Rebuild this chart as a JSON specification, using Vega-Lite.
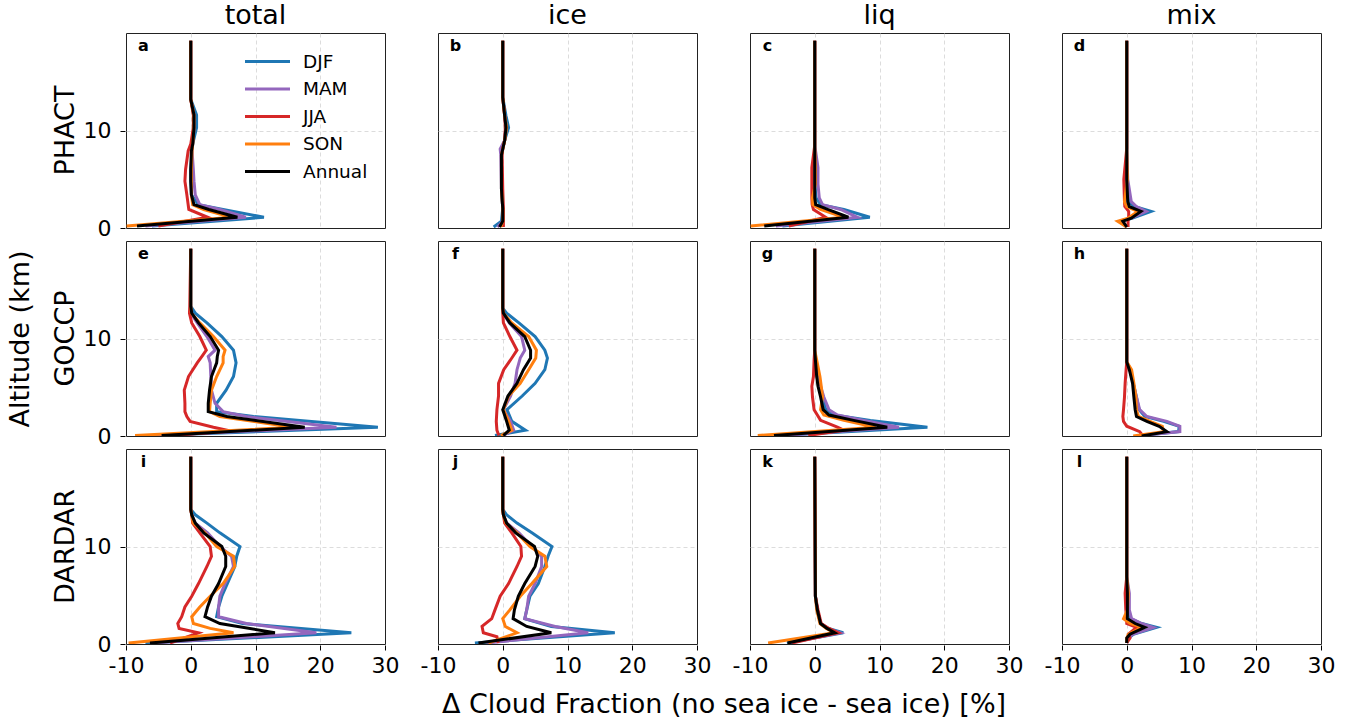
{
"$schema": "https://vega.github.io/schema/vega-lite/v6.json",
"background": "white",
"padding": {"left": 6, "top": 2, "right": 5, "bottom": 3},
"data": {"values": [
{"p":"a","s":"DJF","z":19.2,"x":0},{"p":"a","s":"DJF","z":13.2,"x":0},{"p":"a","s":"DJF","z":11.6,"x":0.9},{"p":"a","s":"DJF","z":10.3,"x":0.9},{"p":"a","s":"DJF","z":8.6,"x":0.3},{"p":"a","s":"DJF","z":7.9,"x":0.2},{"p":"a","s":"DJF","z":6,"x":0},{"p":"a","s":"DJF","z":4.8,"x":0},{"p":"a","s":"DJF","z":3.4,"x":0.1},{"p":"a","s":"DJF","z":2.4,"x":1.2},{"p":"a","s":"DJF","z":1.9,"x":5},{"p":"a","s":"DJF","z":1.1,"x":11.3},{"p":"a","s":"DJF","z":0.2,"x":-6},
{"p":"a","s":"MAM","z":19.2,"x":0},{"p":"a","s":"MAM","z":13.2,"x":0},{"p":"a","s":"MAM","z":11.6,"x":0.5},{"p":"a","s":"MAM","z":10.3,"x":0.5},{"p":"a","s":"MAM","z":8.6,"x":0.3},{"p":"a","s":"MAM","z":7.9,"x":0.2},{"p":"a","s":"MAM","z":6,"x":0.4},{"p":"a","s":"MAM","z":4.8,"x":0.5},{"p":"a","s":"MAM","z":3.4,"x":0.7},{"p":"a","s":"MAM","z":2.4,"x":1.4},{"p":"a","s":"MAM","z":1.9,"x":4.5},{"p":"a","s":"MAM","z":1.1,"x":8.5},{"p":"a","s":"MAM","z":0.2,"x":-7},
{"p":"a","s":"JJA","z":19.2,"x":0},{"p":"a","s":"JJA","z":13.2,"x":0},{"p":"a","s":"JJA","z":11.6,"x":0.4},{"p":"a","s":"JJA","z":10.3,"x":0.4},{"p":"a","s":"JJA","z":8.6,"x":0},{"p":"a","s":"JJA","z":7.9,"x":-0.4},{"p":"a","s":"JJA","z":6,"x":-0.8},{"p":"a","s":"JJA","z":4.8,"x":-0.9},{"p":"a","s":"JJA","z":3.4,"x":-0.6},{"p":"a","s":"JJA","z":2.4,"x":-0.4},{"p":"a","s":"JJA","z":1.9,"x":-0.3},{"p":"a","s":"JJA","z":1.1,"x":2.6},{"p":"a","s":"JJA","z":0.2,"x":-5},
{"p":"a","s":"SON","z":19.2,"x":0},{"p":"a","s":"SON","z":13.2,"x":0},{"p":"a","s":"SON","z":11.6,"x":0.5},{"p":"a","s":"SON","z":10.3,"x":0.5},{"p":"a","s":"SON","z":8.6,"x":0.3},{"p":"a","s":"SON","z":7.9,"x":0.2},{"p":"a","s":"SON","z":6,"x":0.1},{"p":"a","s":"SON","z":4.8,"x":0.1},{"p":"a","s":"SON","z":3.4,"x":0.1},{"p":"a","s":"SON","z":2.4,"x":0.3},{"p":"a","s":"SON","z":1.9,"x":2},{"p":"a","s":"SON","z":1.1,"x":6.3},{"p":"a","s":"SON","z":0.2,"x":-9.9},
{"p":"a","s":"Annual","z":19.2,"x":0},{"p":"a","s":"Annual","z":13.2,"x":0},{"p":"a","s":"Annual","z":11.6,"x":0.5},{"p":"a","s":"Annual","z":10.3,"x":0.5},{"p":"a","s":"Annual","z":8.6,"x":0.3},{"p":"a","s":"Annual","z":7.9,"x":0.1},{"p":"a","s":"Annual","z":6,"x":0},{"p":"a","s":"Annual","z":4.8,"x":0},{"p":"a","s":"Annual","z":3.4,"x":0.1},{"p":"a","s":"Annual","z":2.4,"x":0.5},{"p":"a","s":"Annual","z":1.9,"x":2.8},{"p":"a","s":"Annual","z":1.1,"x":7.2},{"p":"a","s":"Annual","z":0.2,"x":-8.3},

{"p":"b","s":"DJF","z":19.2,"x":0},{"p":"b","s":"DJF","z":13.4,"x":0},{"p":"b","s":"DJF","z":11.5,"x":0.5},{"p":"b","s":"DJF","z":10.3,"x":0.9},{"p":"b","s":"DJF","z":9,"x":0.3},{"p":"b","s":"DJF","z":8.1,"x":0},{"p":"b","s":"DJF","z":7.5,"x":-0.2},{"p":"b","s":"DJF","z":4,"x":-0.2},{"p":"b","s":"DJF","z":2,"x":0},{"p":"b","s":"DJF","z":0.7,"x":-0.2},{"p":"b","s":"DJF","z":0.1,"x":-1.4},
{"p":"b","s":"MAM","z":19.2,"x":0},{"p":"b","s":"MAM","z":13.4,"x":0},{"p":"b","s":"MAM","z":11.5,"x":0.3},{"p":"b","s":"MAM","z":10.3,"x":0.5},{"p":"b","s":"MAM","z":9,"x":0.3},{"p":"b","s":"MAM","z":8.1,"x":-0.4},{"p":"b","s":"MAM","z":7.5,"x":-0.3},{"p":"b","s":"MAM","z":4,"x":-0.2},{"p":"b","s":"MAM","z":2,"x":0},{"p":"b","s":"MAM","z":0.7,"x":0},{"p":"b","s":"MAM","z":0.1,"x":-0.8},
{"p":"b","s":"JJA","z":19.2,"x":0},{"p":"b","s":"JJA","z":13.4,"x":0},{"p":"b","s":"JJA","z":11.5,"x":0.3},{"p":"b","s":"JJA","z":10.3,"x":0.4},{"p":"b","s":"JJA","z":9,"x":0.3},{"p":"b","s":"JJA","z":8.1,"x":0},{"p":"b","s":"JJA","z":7.5,"x":-0.1},{"p":"b","s":"JJA","z":4,"x":0},{"p":"b","s":"JJA","z":2,"x":0.1},{"p":"b","s":"JJA","z":0.7,"x":0.1},{"p":"b","s":"JJA","z":0.1,"x":0.1},
{"p":"b","s":"SON","z":19.2,"x":0},{"p":"b","s":"SON","z":13.4,"x":0},{"p":"b","s":"SON","z":11.5,"x":0.3},{"p":"b","s":"SON","z":10.3,"x":0.6},{"p":"b","s":"SON","z":9,"x":0.3},{"p":"b","s":"SON","z":8.1,"x":0},{"p":"b","s":"SON","z":7.5,"x":-0.2},{"p":"b","s":"SON","z":4,"x":-0.2},{"p":"b","s":"SON","z":2,"x":0},{"p":"b","s":"SON","z":0.7,"x":0},{"p":"b","s":"SON","z":0.1,"x":-0.3},
{"p":"b","s":"Annual","z":19.2,"x":0},{"p":"b","s":"Annual","z":13.4,"x":0},{"p":"b","s":"Annual","z":11.5,"x":0.3},{"p":"b","s":"Annual","z":10.3,"x":0.5},{"p":"b","s":"Annual","z":9,"x":0.3},{"p":"b","s":"Annual","z":8.1,"x":0},{"p":"b","s":"Annual","z":7.5,"x":-0.2},{"p":"b","s":"Annual","z":4,"x":-0.2},{"p":"b","s":"Annual","z":2,"x":0},{"p":"b","s":"Annual","z":0.7,"x":0},{"p":"b","s":"Annual","z":0.1,"x":-0.5},

{"p":"c","s":"DJF","z":19.2,"x":0},{"p":"c","s":"DJF","z":8.5,"x":0},{"p":"c","s":"DJF","z":6.2,"x":0},{"p":"c","s":"DJF","z":4.5,"x":0},{"p":"c","s":"DJF","z":3.1,"x":0.2},{"p":"c","s":"DJF","z":2.4,"x":0.9},{"p":"c","s":"DJF","z":1.9,"x":4.5},{"p":"c","s":"DJF","z":1.1,"x":8.5},{"p":"c","s":"DJF","z":0.2,"x":-5},
{"p":"c","s":"MAM","z":19.2,"x":0},{"p":"c","s":"MAM","z":8.5,"x":0},{"p":"c","s":"MAM","z":6.2,"x":0.5},{"p":"c","s":"MAM","z":4.5,"x":0.5},{"p":"c","s":"MAM","z":3.1,"x":0.7},{"p":"c","s":"MAM","z":2.4,"x":1.2},{"p":"c","s":"MAM","z":1.9,"x":4},{"p":"c","s":"MAM","z":1.1,"x":6.6},{"p":"c","s":"MAM","z":0.2,"x":-6},
{"p":"c","s":"JJA","z":19.2,"x":0},{"p":"c","s":"JJA","z":8.5,"x":0},{"p":"c","s":"JJA","z":6.2,"x":-0.45},{"p":"c","s":"JJA","z":4.5,"x":-0.45},{"p":"c","s":"JJA","z":3.1,"x":-0.45},{"p":"c","s":"JJA","z":2.4,"x":-0.4},{"p":"c","s":"JJA","z":1.9,"x":-0.2},{"p":"c","s":"JJA","z":1.1,"x":1.7},{"p":"c","s":"JJA","z":0.2,"x":-4},
{"p":"c","s":"SON","z":19.2,"x":0},{"p":"c","s":"SON","z":8.5,"x":0},{"p":"c","s":"SON","z":6.2,"x":0.1},{"p":"c","s":"SON","z":4.5,"x":0.1},{"p":"c","s":"SON","z":3.1,"x":-0.35},{"p":"c","s":"SON","z":2.4,"x":-0.3},{"p":"c","s":"SON","z":1.9,"x":0.9},{"p":"c","s":"SON","z":1.1,"x":4.5},{"p":"c","s":"SON","z":0.2,"x":-9.9},
{"p":"c","s":"Annual","z":19.2,"x":0},{"p":"c","s":"Annual","z":8.5,"x":0},{"p":"c","s":"Annual","z":6.2,"x":0},{"p":"c","s":"Annual","z":4.5,"x":0},{"p":"c","s":"Annual","z":3.1,"x":0},{"p":"c","s":"Annual","z":2.4,"x":0.15},{"p":"c","s":"Annual","z":1.9,"x":2},{"p":"c","s":"Annual","z":1.1,"x":5.2},{"p":"c","s":"Annual","z":0.2,"x":-7.8},

{"p":"d","s":"DJF","z":19.2,"x":0},{"p":"d","s":"DJF","z":8.2,"x":0},{"p":"d","s":"DJF","z":5,"x":0},{"p":"d","s":"DJF","z":2.7,"x":0.3},{"p":"d","s":"DJF","z":2.2,"x":1.2},{"p":"d","s":"DJF","z":1.7,"x":3.75},{"p":"d","s":"DJF","z":1.0,"x":0.8},{"p":"d","s":"DJF","z":0.7,"x":-0.8},{"p":"d","s":"DJF","z":0.1,"x":0},
{"p":"d","s":"MAM","z":19.2,"x":0},{"p":"d","s":"MAM","z":8.2,"x":0},{"p":"d","s":"MAM","z":5,"x":0.15},{"p":"d","s":"MAM","z":2.7,"x":0.7},{"p":"d","s":"MAM","z":2.2,"x":1.5},{"p":"d","s":"MAM","z":1.7,"x":3},{"p":"d","s":"MAM","z":1.0,"x":0.6},{"p":"d","s":"MAM","z":0.7,"x":-1},{"p":"d","s":"MAM","z":0.1,"x":0},
{"p":"d","s":"JJA","z":19.2,"x":0},{"p":"d","s":"JJA","z":8.2,"x":0},{"p":"d","s":"JJA","z":5,"x":-0.45},{"p":"d","s":"JJA","z":2.7,"x":-0.35},{"p":"d","s":"JJA","z":2.2,"x":-0.3},{"p":"d","s":"JJA","z":1.7,"x":0.3},{"p":"d","s":"JJA","z":1.0,"x":0.3},{"p":"d","s":"JJA","z":0.7,"x":0.2},{"p":"d","s":"JJA","z":0.1,"x":0.2},
{"p":"d","s":"SON","z":19.2,"x":0},{"p":"d","s":"SON","z":8.2,"x":0},{"p":"d","s":"SON","z":5,"x":0.1},{"p":"d","s":"SON","z":2.7,"x":-0.35},{"p":"d","s":"SON","z":2.2,"x":0},{"p":"d","s":"SON","z":1.7,"x":1.7},{"p":"d","s":"SON","z":1.0,"x":0.2},{"p":"d","s":"SON","z":0.7,"x":-1.4},{"p":"d","s":"SON","z":0.1,"x":0},
{"p":"d","s":"Annual","z":19.2,"x":0},{"p":"d","s":"Annual","z":8.2,"x":0},{"p":"d","s":"Annual","z":5,"x":0},{"p":"d","s":"Annual","z":2.7,"x":0.15},{"p":"d","s":"Annual","z":2.2,"x":0.4},{"p":"d","s":"Annual","z":1.7,"x":2.2},{"p":"d","s":"Annual","z":1.0,"x":0.7},{"p":"d","s":"Annual","z":0.7,"x":-0.6},{"p":"d","s":"Annual","z":0.1,"x":0},

{"p":"e","s":"DJF","z":19.2,"x":0},{"p":"e","s":"DJF","z":13.3,"x":0},{"p":"e","s":"DJF","z":12.6,"x":0.7},{"p":"e","s":"DJF","z":11.6,"x":2.5},{"p":"e","s":"DJF","z":10.2,"x":4.8},{"p":"e","s":"DJF","z":8.8,"x":6.6},{"p":"e","s":"DJF","z":7.5,"x":7},{"p":"e","s":"DJF","z":6.1,"x":6.6},{"p":"e","s":"DJF","z":4.7,"x":5.45},{"p":"e","s":"DJF","z":3.35,"x":4},{"p":"e","s":"DJF","z":2.5,"x":4},{"p":"e","s":"DJF","z":2.0,"x":9.7},{"p":"e","s":"DJF","z":0.9,"x":28.9},{"p":"e","s":"DJF","z":0.05,"x":-6},
{"p":"e","s":"MAM","z":19.2,"x":0},{"p":"e","s":"MAM","z":13.3,"x":0},{"p":"e","s":"MAM","z":12.6,"x":0},{"p":"e","s":"MAM","z":11.6,"x":1},{"p":"e","s":"MAM","z":10.2,"x":2.5},{"p":"e","s":"MAM","z":8.8,"x":3.75},{"p":"e","s":"MAM","z":8.15,"x":2.7},{"p":"e","s":"MAM","z":7.5,"x":3},{"p":"e","s":"MAM","z":6.1,"x":3.1},{"p":"e","s":"MAM","z":4.7,"x":3.2},{"p":"e","s":"MAM","z":3.35,"x":3.75},{"p":"e","s":"MAM","z":2.5,"x":5},{"p":"e","s":"MAM","z":2.0,"x":8.6},{"p":"e","s":"MAM","z":0.9,"x":22.5},{"p":"e","s":"MAM","z":0.05,"x":-6},
{"p":"e","s":"JJA","z":19.2,"x":0},{"p":"e","s":"JJA","z":13.3,"x":-0.15},{"p":"e","s":"JJA","z":12.6,"x":-0.2},{"p":"e","s":"JJA","z":11.6,"x":0.15},{"p":"e","s":"JJA","z":10.2,"x":1.4},{"p":"e","s":"JJA","z":8.8,"x":2.4},{"p":"e","s":"JJA","z":8.15,"x":1.7},{"p":"e","s":"JJA","z":7.5,"x":1},{"p":"e","s":"JJA","z":6.1,"x":-0.35},{"p":"e","s":"JJA","z":4.7,"x":-1},{"p":"e","s":"JJA","z":3.35,"x":-0.9},{"p":"e","s":"JJA","z":2.5,"x":-0.9},{"p":"e","s":"JJA","z":2.0,"x":-0.6},{"p":"e","s":"JJA","z":1.5,"x":-0.1},{"p":"e","s":"JJA","z":0.9,"x":3.5},{"p":"e","s":"JJA","z":0.5,"x":6.3},{"p":"e","s":"JJA","z":0.05,"x":-3},
{"p":"e","s":"SON","z":19.2,"x":0},{"p":"e","s":"SON","z":13.3,"x":0},{"p":"e","s":"SON","z":12.6,"x":0.1},{"p":"e","s":"SON","z":11.6,"x":1.4},{"p":"e","s":"SON","z":10.2,"x":3.5},{"p":"e","s":"SON","z":8.8,"x":5.3},{"p":"e","s":"SON","z":8.15,"x":5},{"p":"e","s":"SON","z":7.5,"x":5},{"p":"e","s":"SON","z":6.1,"x":4},{"p":"e","s":"SON","z":4.7,"x":3.2},{"p":"e","s":"SON","z":3.35,"x":3},{"p":"e","s":"SON","z":2.5,"x":2.9},{"p":"e","s":"SON","z":2.0,"x":4.5},{"p":"e","s":"SON","z":0.9,"x":15.8},{"p":"e","s":"SON","z":0.05,"x":-8.6},
{"p":"e","s":"Annual","z":19.2,"x":0},{"p":"e","s":"Annual","z":13.3,"x":0},{"p":"e","s":"Annual","z":12.6,"x":0.15},{"p":"e","s":"Annual","z":11.6,"x":1.2},{"p":"e","s":"Annual","z":10.2,"x":3},{"p":"e","s":"Annual","z":8.8,"x":4.3},{"p":"e","s":"Annual","z":8.15,"x":4.1},{"p":"e","s":"Annual","z":7.5,"x":4},{"p":"e","s":"Annual","z":6.1,"x":3.2},{"p":"e","s":"Annual","z":4.7,"x":2.9},{"p":"e","s":"Annual","z":3.35,"x":2.7},{"p":"e","s":"Annual","z":2.5,"x":2.7},{"p":"e","s":"Annual","z":2.0,"x":5.6},{"p":"e","s":"Annual","z":0.9,"x":17.6},{"p":"e","s":"Annual","z":0.05,"x":-4.5},

{"p":"f","s":"DJF","z":19.2,"x":0},{"p":"f","s":"DJF","z":13.1,"x":0},{"p":"f","s":"DJF","z":12.6,"x":0.6},{"p":"f","s":"DJF","z":11.6,"x":2.5},{"p":"f","s":"DJF","z":10.2,"x":5},{"p":"f","s":"DJF","z":8.8,"x":6.5},{"p":"f","s":"DJF","z":8.0,"x":6.9},{"p":"f","s":"DJF","z":6.8,"x":6.5},{"p":"f","s":"DJF","z":5.4,"x":5},{"p":"f","s":"DJF","z":4.1,"x":3},{"p":"f","s":"DJF","z":2.7,"x":0.65},{"p":"f","s":"DJF","z":1.5,"x":1.4},{"p":"f","s":"DJF","z":0.6,"x":3.5},{"p":"f","s":"DJF","z":0.05,"x":-1.2},
{"p":"f","s":"MAM","z":19.2,"x":0},{"p":"f","s":"MAM","z":13.1,"x":0},{"p":"f","s":"MAM","z":12.6,"x":0.1},{"p":"f","s":"MAM","z":11.6,"x":1},{"p":"f","s":"MAM","z":10.2,"x":2.9},{"p":"f","s":"MAM","z":8.8,"x":3.4},{"p":"f","s":"MAM","z":8.0,"x":2.7},{"p":"f","s":"MAM","z":6.8,"x":2.2},{"p":"f","s":"MAM","z":5.4,"x":1.9},{"p":"f","s":"MAM","z":4.1,"x":1.2},{"p":"f","s":"MAM","z":2.7,"x":0.1},{"p":"f","s":"MAM","z":1.5,"x":1.2},{"p":"f","s":"MAM","z":0.6,"x":1.7},{"p":"f","s":"MAM","z":0.05,"x":0},
{"p":"f","s":"JJA","z":19.2,"x":0},{"p":"f","s":"JJA","z":13.1,"x":0},{"p":"f","s":"JJA","z":12.6,"x":0},{"p":"f","s":"JJA","z":11.6,"x":0.1},{"p":"f","s":"JJA","z":10.2,"x":1.1},{"p":"f","s":"JJA","z":8.8,"x":2.2},{"p":"f","s":"JJA","z":8.0,"x":1.4},{"p":"f","s":"JJA","z":6.8,"x":0.15},{"p":"f","s":"JJA","z":5.4,"x":-0.65},{"p":"f","s":"JJA","z":4.1,"x":-0.65},{"p":"f","s":"JJA","z":2.7,"x":-0.9},{"p":"f","s":"JJA","z":1.5,"x":-1},{"p":"f","s":"JJA","z":0.6,"x":-0.9},{"p":"f","s":"JJA","z":0.05,"x":-0.6},
{"p":"f","s":"SON","z":19.2,"x":0},{"p":"f","s":"SON","z":13.1,"x":0},{"p":"f","s":"SON","z":12.6,"x":0.1},{"p":"f","s":"SON","z":11.6,"x":1.4},{"p":"f","s":"SON","z":10.2,"x":4},{"p":"f","s":"SON","z":8.8,"x":5.2},{"p":"f","s":"SON","z":8.0,"x":5.1},{"p":"f","s":"SON","z":6.8,"x":4},{"p":"f","s":"SON","z":5.4,"x":2.7},{"p":"f","s":"SON","z":4.1,"x":0.9},{"p":"f","s":"SON","z":2.7,"x":0.1},{"p":"f","s":"SON","z":1.5,"x":0.9},{"p":"f","s":"SON","z":0.6,"x":1.4},{"p":"f","s":"SON","z":0.05,"x":-0.3},
{"p":"f","s":"Annual","z":19.2,"x":0},{"p":"f","s":"Annual","z":13.1,"x":0},{"p":"f","s":"Annual","z":12.6,"x":0.1},{"p":"f","s":"Annual","z":11.6,"x":1.1},{"p":"f","s":"Annual","z":10.2,"x":3.4},{"p":"f","s":"Annual","z":8.8,"x":4.3},{"p":"f","s":"Annual","z":8.0,"x":4.3},{"p":"f","s":"Annual","z":6.8,"x":3.2},{"p":"f","s":"Annual","z":5.4,"x":2.2},{"p":"f","s":"Annual","z":4.1,"x":0.8},{"p":"f","s":"Annual","z":2.7,"x":0},{"p":"f","s":"Annual","z":1.5,"x":0.6},{"p":"f","s":"Annual","z":0.6,"x":1},{"p":"f","s":"Annual","z":0.05,"x":0.1},

{"p":"g","s":"DJF","z":19.2,"x":0},{"p":"g","s":"DJF","z":8.8,"x":0},{"p":"g","s":"DJF","z":7.8,"x":0},{"p":"g","s":"DJF","z":6.1,"x":0.4},{"p":"g","s":"DJF","z":5.1,"x":0.65},{"p":"g","s":"DJF","z":4.0,"x":1.2},{"p":"g","s":"DJF","z":2.7,"x":1.7},{"p":"g","s":"DJF","z":2.15,"x":3},{"p":"g","s":"DJF","z":1.6,"x":8.6},{"p":"g","s":"DJF","z":0.9,"x":17.4},{"p":"g","s":"DJF","z":0.05,"x":-5.5},
{"p":"g","s":"MAM","z":19.2,"x":0},{"p":"g","s":"MAM","z":8.8,"x":0},{"p":"g","s":"MAM","z":7.8,"x":0.1},{"p":"g","s":"MAM","z":6.1,"x":0.5},{"p":"g","s":"MAM","z":5.1,"x":0.9},{"p":"g","s":"MAM","z":4.0,"x":1.4},{"p":"g","s":"MAM","z":2.7,"x":2.2},{"p":"g","s":"MAM","z":2.15,"x":3.5},{"p":"g","s":"MAM","z":1.6,"x":7.6},{"p":"g","s":"MAM","z":0.9,"x":13},{"p":"g","s":"MAM","z":0.05,"x":-5},
{"p":"g","s":"JJA","z":19.2,"x":0},{"p":"g","s":"JJA","z":8.8,"x":0},{"p":"g","s":"JJA","z":7.8,"x":-0.1},{"p":"g","s":"JJA","z":6.1,"x":-0.2},{"p":"g","s":"JJA","z":5.1,"x":-0.45},{"p":"g","s":"JJA","z":4.0,"x":-0.35},{"p":"g","s":"JJA","z":2.7,"x":-0.1},{"p":"g","s":"JJA","z":2.15,"x":0.4},{"p":"g","s":"JJA","z":1.6,"x":0.9},{"p":"g","s":"JJA","z":0.9,"x":3.5},{"p":"g","s":"JJA","z":0.6,"x":4.5},{"p":"g","s":"JJA","z":0.05,"x":-1},
{"p":"g","s":"SON","z":19.2,"x":0},{"p":"g","s":"SON","z":8.8,"x":0},{"p":"g","s":"SON","z":7.8,"x":0.3},{"p":"g","s":"SON","z":6.1,"x":0.8},{"p":"g","s":"SON","z":5.1,"x":1},{"p":"g","s":"SON","z":4.0,"x":1.2},{"p":"g","s":"SON","z":2.7,"x":0.9},{"p":"g","s":"SON","z":2.15,"x":1.4},{"p":"g","s":"SON","z":1.6,"x":4.5},{"p":"g","s":"SON","z":0.9,"x":9.4},{"p":"g","s":"SON","z":0.05,"x":-8.8},
{"p":"g","s":"Annual","z":19.2,"x":0},{"p":"g","s":"Annual","z":8.8,"x":0},{"p":"g","s":"Annual","z":7.8,"x":0.1},{"p":"g","s":"Annual","z":6.1,"x":0.3},{"p":"g","s":"Annual","z":5.1,"x":0.5},{"p":"g","s":"Annual","z":4.0,"x":0.9},{"p":"g","s":"Annual","z":2.7,"x":1.3},{"p":"g","s":"Annual","z":2.15,"x":2.2},{"p":"g","s":"Annual","z":1.6,"x":6},{"p":"g","s":"Annual","z":0.9,"x":11.2},{"p":"g","s":"Annual","z":0.05,"x":-6.3},

{"p":"h","s":"DJF","z":19.2,"x":0},{"p":"h","s":"DJF","z":7.6,"x":0},{"p":"h","s":"DJF","z":6.8,"x":0.5},{"p":"h","s":"DJF","z":5.4,"x":1},{"p":"h","s":"DJF","z":4.0,"x":1.5},{"p":"h","s":"DJF","z":2.7,"x":1.9},{"p":"h","s":"DJF","z":2.0,"x":2.8},{"p":"h","s":"DJF","z":1.5,"x":5.7},{"p":"h","s":"DJF","z":1.0,"x":8.1},{"p":"h","s":"DJF","z":0.45,"x":8},{"p":"h","s":"DJF","z":0.0,"x":1.5},
{"p":"h","s":"MAM","z":19.2,"x":0},{"p":"h","s":"MAM","z":7.6,"x":0},{"p":"h","s":"MAM","z":6.8,"x":0.5},{"p":"h","s":"MAM","z":5.4,"x":1},{"p":"h","s":"MAM","z":4.0,"x":1.5},{"p":"h","s":"MAM","z":2.7,"x":2},{"p":"h","s":"MAM","z":2.0,"x":3.1},{"p":"h","s":"MAM","z":1.5,"x":6.2},{"p":"h","s":"MAM","z":1.0,"x":8.2},{"p":"h","s":"MAM","z":0.45,"x":8.2},{"p":"h","s":"MAM","z":0.0,"x":1.5},
{"p":"h","s":"JJA","z":19.2,"x":0},{"p":"h","s":"JJA","z":7.6,"x":0},{"p":"h","s":"JJA","z":6.8,"x":-0.1},{"p":"h","s":"JJA","z":5.4,"x":-0.25},{"p":"h","s":"JJA","z":4.0,"x":-0.35},{"p":"h","s":"JJA","z":2.7,"x":-0.5},{"p":"h","s":"JJA","z":2.0,"x":-0.6},{"p":"h","s":"JJA","z":1.5,"x":-0.5},{"p":"h","s":"JJA","z":1.0,"x":0},{"p":"h","s":"JJA","z":0.45,"x":2},{"p":"h","s":"JJA","z":0.0,"x":2.5},
{"p":"h","s":"SON","z":19.2,"x":0},{"p":"h","s":"SON","z":7.6,"x":0},{"p":"h","s":"SON","z":6.8,"x":0.75},{"p":"h","s":"SON","z":5.4,"x":1.1},{"p":"h","s":"SON","z":4.0,"x":1.4},{"p":"h","s":"SON","z":2.7,"x":1.5},{"p":"h","s":"SON","z":2.0,"x":1.8},{"p":"h","s":"SON","z":1.5,"x":3.6},{"p":"h","s":"SON","z":1.0,"x":5.5},{"p":"h","s":"SON","z":0.45,"x":5.7},{"p":"h","s":"SON","z":0.0,"x":1},
{"p":"h","s":"Annual","z":19.2,"x":0},{"p":"h","s":"Annual","z":7.6,"x":0},{"p":"h","s":"Annual","z":6.8,"x":0.4},{"p":"h","s":"Annual","z":5.4,"x":0.9},{"p":"h","s":"Annual","z":4.0,"x":1.1},{"p":"h","s":"Annual","z":2.7,"x":1.3},{"p":"h","s":"Annual","z":2.0,"x":1.5},{"p":"h","s":"Annual","z":1.5,"x":3.1},{"p":"h","s":"Annual","z":1.0,"x":5},{"p":"h","s":"Annual","z":0.45,"x":6.2},{"p":"h","s":"Annual","z":0.0,"x":2.3},

{"p":"i","s":"DJF","z":19.2,"x":0},{"p":"i","s":"DJF","z":13.8,"x":0},{"p":"i","s":"DJF","z":13.25,"x":0.7},{"p":"i","s":"DJF","z":12.4,"x":2.5},{"p":"i","s":"DJF","z":11.4,"x":4.5},{"p":"i","s":"DJF","z":10.0,"x":7.6},{"p":"i","s":"DJF","z":9.0,"x":7.1},{"p":"i","s":"DJF","z":7.95,"x":6.8},{"p":"i","s":"DJF","z":6.2,"x":5.65},{"p":"i","s":"DJF","z":4.9,"x":4.8},{"p":"i","s":"DJF","z":3.8,"x":4.3},{"p":"i","s":"DJF","z":2.8,"x":4},{"p":"i","s":"DJF","z":2.1,"x":8},{"p":"i","s":"DJF","z":1.15,"x":24.8},{"p":"i","s":"DJF","z":0.1,"x":-7},
{"p":"i","s":"MAM","z":19.2,"x":0},{"p":"i","s":"MAM","z":13.8,"x":0},{"p":"i","s":"MAM","z":13.25,"x":0.15},{"p":"i","s":"MAM","z":12.4,"x":0.7},{"p":"i","s":"MAM","z":11.4,"x":2.6},{"p":"i","s":"MAM","z":10.0,"x":4.5},{"p":"i","s":"MAM","z":9.0,"x":6.3},{"p":"i","s":"MAM","z":7.95,"x":6.6},{"p":"i","s":"MAM","z":6.2,"x":5.3},{"p":"i","s":"MAM","z":4.9,"x":4.5},{"p":"i","s":"MAM","z":3.8,"x":4.3},{"p":"i","s":"MAM","z":2.8,"x":4.3},{"p":"i","s":"MAM","z":2.1,"x":8.6},{"p":"i","s":"MAM","z":1.15,"x":19.4},{"p":"i","s":"MAM","z":0.1,"x":-6},
{"p":"i","s":"JJA","z":19.2,"x":0},{"p":"i","s":"JJA","z":13.8,"x":0},{"p":"i","s":"JJA","z":13.25,"x":0.15},{"p":"i","s":"JJA","z":12.4,"x":0.3},{"p":"i","s":"JJA","z":11.4,"x":1.4},{"p":"i","s":"JJA","z":10.0,"x":3},{"p":"i","s":"JJA","z":9.0,"x":3.2},{"p":"i","s":"JJA","z":7.95,"x":2.5},{"p":"i","s":"JJA","z":6.2,"x":1.2},{"p":"i","s":"JJA","z":4.9,"x":0.15},{"p":"i","s":"JJA","z":3.8,"x":-0.9},{"p":"i","s":"JJA","z":2.8,"x":-1.4},{"p":"i","s":"JJA","z":2.1,"x":-2},{"p":"i","s":"JJA","z":1.6,"x":-1.8},{"p":"i","s":"JJA","z":1.15,"x":1.2},{"p":"i","s":"JJA","z":0.1,"x":-3.2},
{"p":"i","s":"SON","z":19.2,"x":0},{"p":"i","s":"SON","z":13.8,"x":0},{"p":"i","s":"SON","z":13.25,"x":0.15},{"p":"i","s":"SON","z":12.4,"x":0.4},{"p":"i","s":"SON","z":11.4,"x":2.2},{"p":"i","s":"SON","z":10.0,"x":4},{"p":"i","s":"SON","z":9.0,"x":6.6},{"p":"i","s":"SON","z":7.95,"x":6.8},{"p":"i","s":"SON","z":6.2,"x":5},{"p":"i","s":"SON","z":4.9,"x":3},{"p":"i","s":"SON","z":3.8,"x":1.4},{"p":"i","s":"SON","z":2.8,"x":0.15},{"p":"i","s":"SON","z":2.1,"x":0.4},{"p":"i","s":"SON","z":1.6,"x":3},{"p":"i","s":"SON","z":1.15,"x":6.6},{"p":"i","s":"SON","z":0.1,"x":-9.6},
{"p":"i","s":"Annual","z":19.2,"x":0},{"p":"i","s":"Annual","z":13.8,"x":0},{"p":"i","s":"Annual","z":13.25,"x":0.15},{"p":"i","s":"Annual","z":12.4,"x":0.7},{"p":"i","s":"Annual","z":11.4,"x":2},{"p":"i","s":"Annual","z":10.0,"x":4.8},{"p":"i","s":"Annual","z":9.0,"x":5.4},{"p":"i","s":"Annual","z":7.95,"x":5.4},{"p":"i","s":"Annual","z":6.2,"x":4.3},{"p":"i","s":"Annual","z":4.9,"x":3.2},{"p":"i","s":"Annual","z":3.8,"x":2.6},{"p":"i","s":"Annual","z":2.8,"x":2.2},{"p":"i","s":"Annual","z":2.1,"x":4.5},{"p":"i","s":"Annual","z":1.15,"x":13},{"p":"i","s":"Annual","z":0.1,"x":-6.3},

{"p":"j","s":"DJF","z":19.2,"x":0},{"p":"j","s":"DJF","z":13.8,"x":0},{"p":"j","s":"DJF","z":13.25,"x":0.6},{"p":"j","s":"DJF","z":12.4,"x":2.2},{"p":"j","s":"DJF","z":11.4,"x":4.5},{"p":"j","s":"DJF","z":10.0,"x":7.6},{"p":"j","s":"DJF","z":9.0,"x":7},{"p":"j","s":"DJF","z":7.95,"x":6.5},{"p":"j","s":"DJF","z":6.2,"x":5.5},{"p":"j","s":"DJF","z":4.9,"x":4.2},{"p":"j","s":"DJF","z":3.5,"x":3.7},{"p":"j","s":"DJF","z":2.6,"x":3.4},{"p":"j","s":"DJF","z":1.8,"x":7.5},{"p":"j","s":"DJF","z":1.15,"x":17.3},{"p":"j","s":"DJF","z":0.1,"x":-4.3},
{"p":"j","s":"MAM","z":19.2,"x":0},{"p":"j","s":"MAM","z":13.8,"x":0},{"p":"j","s":"MAM","z":13.25,"x":0.1},{"p":"j","s":"MAM","z":12.4,"x":0.6},{"p":"j","s":"MAM","z":11.4,"x":2.5},{"p":"j","s":"MAM","z":10.0,"x":4.5},{"p":"j","s":"MAM","z":9.0,"x":6},{"p":"j","s":"MAM","z":7.95,"x":6},{"p":"j","s":"MAM","z":6.2,"x":5},{"p":"j","s":"MAM","z":4.9,"x":4},{"p":"j","s":"MAM","z":3.5,"x":3.7},{"p":"j","s":"MAM","z":2.6,"x":3.4},{"p":"j","s":"MAM","z":1.8,"x":8.1},{"p":"j","s":"MAM","z":1.15,"x":13.2},{"p":"j","s":"MAM","z":0.1,"x":-2.5},
{"p":"j","s":"JJA","z":19.2,"x":0},{"p":"j","s":"JJA","z":13.8,"x":0},{"p":"j","s":"JJA","z":13.25,"x":0.1},{"p":"j","s":"JJA","z":12.4,"x":0.3},{"p":"j","s":"JJA","z":11.4,"x":1.4},{"p":"j","s":"JJA","z":10.0,"x":2.8},{"p":"j","s":"JJA","z":9.0,"x":2.9},{"p":"j","s":"JJA","z":7.95,"x":2.2},{"p":"j","s":"JJA","z":6.2,"x":0.9},{"p":"j","s":"JJA","z":4.9,"x":-0.4},{"p":"j","s":"JJA","z":3.5,"x":-1.2},{"p":"j","s":"JJA","z":2.6,"x":-1.7},{"p":"j","s":"JJA","z":1.8,"x":-3.2},{"p":"j","s":"JJA","z":1.15,"x":-3},{"p":"j","s":"JJA","z":0.75,"x":-0.9},{"p":"j","s":"JJA","z":0.1,"x":-0.7},
{"p":"j","s":"SON","z":19.2,"x":0},{"p":"j","s":"SON","z":13.8,"x":0},{"p":"j","s":"SON","z":13.25,"x":0.1},{"p":"j","s":"SON","z":12.4,"x":0.5},{"p":"j","s":"SON","z":11.4,"x":2.2},{"p":"j","s":"SON","z":10.0,"x":4.2},{"p":"j","s":"SON","z":9.0,"x":6.5},{"p":"j","s":"SON","z":7.95,"x":6.8},{"p":"j","s":"SON","z":6.2,"x":4.5},{"p":"j","s":"SON","z":4.9,"x":2.7},{"p":"j","s":"SON","z":3.5,"x":1.1},{"p":"j","s":"SON","z":2.6,"x":0},{"p":"j","s":"SON","z":1.8,"x":0.4},{"p":"j","s":"SON","z":1.15,"x":2.2},{"p":"j","s":"SON","z":0.1,"x":-2.2},
{"p":"j","s":"Annual","z":19.2,"x":0},{"p":"j","s":"Annual","z":13.8,"x":0},{"p":"j","s":"Annual","z":13.25,"x":0.1},{"p":"j","s":"Annual","z":12.4,"x":0.6},{"p":"j","s":"Annual","z":11.4,"x":2},{"p":"j","s":"Annual","z":10.0,"x":4.9},{"p":"j","s":"Annual","z":9.0,"x":5.4},{"p":"j","s":"Annual","z":7.95,"x":5},{"p":"j","s":"Annual","z":6.2,"x":3.4},{"p":"j","s":"Annual","z":4.9,"x":2.4},{"p":"j","s":"Annual","z":3.5,"x":1.8},{"p":"j","s":"Annual","z":2.6,"x":1.6},{"p":"j","s":"Annual","z":1.8,"x":3.7},{"p":"j","s":"Annual","z":1.15,"x":7.5},{"p":"j","s":"Annual","z":0.1,"x":-3.75},

{"p":"k","s":"DJF","z":19.2,"x":0},{"p":"k","s":"DJF","z":4.9,"x":0.1},{"p":"k","s":"DJF","z":3.5,"x":0.4},{"p":"k","s":"DJF","z":2.1,"x":0.9},{"p":"k","s":"DJF","z":1.6,"x":2.1},{"p":"k","s":"DJF","z":1.15,"x":4.4},{"p":"k","s":"DJF","z":0.1,"x":-4.3},
{"p":"k","s":"MAM","z":19.2,"x":0},{"p":"k","s":"MAM","z":4.9,"x":0.1},{"p":"k","s":"MAM","z":3.5,"x":0.4},{"p":"k","s":"MAM","z":2.1,"x":0.9},{"p":"k","s":"MAM","z":1.6,"x":2},{"p":"k","s":"MAM","z":1.15,"x":3.9},{"p":"k","s":"MAM","z":0.1,"x":-4},
{"p":"k","s":"JJA","z":19.2,"x":0},{"p":"k","s":"JJA","z":4.9,"x":0.1},{"p":"k","s":"JJA","z":3.5,"x":0.5},{"p":"k","s":"JJA","z":2.1,"x":1},{"p":"k","s":"JJA","z":1.6,"x":2.2},{"p":"k","s":"JJA","z":1.15,"x":3.6},{"p":"k","s":"JJA","z":0.1,"x":-3.5},
{"p":"k","s":"SON","z":19.2,"x":0},{"p":"k","s":"SON","z":4.9,"x":0.1},{"p":"k","s":"SON","z":3.5,"x":0.3},{"p":"k","s":"SON","z":2.1,"x":0.8},{"p":"k","s":"SON","z":1.6,"x":1.8},{"p":"k","s":"SON","z":1.15,"x":3},{"p":"k","s":"SON","z":0.1,"x":-7.2},
{"p":"k","s":"Annual","z":19.2,"x":0},{"p":"k","s":"Annual","z":4.9,"x":0.1},{"p":"k","s":"Annual","z":3.5,"x":0.4},{"p":"k","s":"Annual","z":2.1,"x":0.9},{"p":"k","s":"Annual","z":1.6,"x":1.9},{"p":"k","s":"Annual","z":1.15,"x":3.1},{"p":"k","s":"Annual","z":0.1,"x":-4.2},

{"p":"l","s":"DJF","z":19.2,"x":0},{"p":"l","s":"DJF","z":6.9,"x":0},{"p":"l","s":"DJF","z":5.2,"x":0.1},{"p":"l","s":"DJF","z":3.5,"x":0.25},{"p":"l","s":"DJF","z":2.6,"x":0.6},{"p":"l","s":"DJF","z":2.1,"x":2.3},{"p":"l","s":"DJF","z":1.7,"x":4.6},{"p":"l","s":"DJF","z":1.0,"x":1},{"p":"l","s":"DJF","z":0.6,"x":0.3},{"p":"l","s":"DJF","z":0.1,"x":0},
{"p":"l","s":"MAM","z":19.2,"x":0},{"p":"l","s":"MAM","z":6.9,"x":0},{"p":"l","s":"MAM","z":5.2,"x":0.4},{"p":"l","s":"MAM","z":3.5,"x":0.4},{"p":"l","s":"MAM","z":2.6,"x":0.75},{"p":"l","s":"MAM","z":2.1,"x":2.3},{"p":"l","s":"MAM","z":1.7,"x":4.1},{"p":"l","s":"MAM","z":1.0,"x":0.9},{"p":"l","s":"MAM","z":0.6,"x":0.3},{"p":"l","s":"MAM","z":0.1,"x":0},
{"p":"l","s":"JJA","z":19.2,"x":0},{"p":"l","s":"JJA","z":6.9,"x":0},{"p":"l","s":"JJA","z":5.2,"x":-0.25},{"p":"l","s":"JJA","z":3.5,"x":-0.15},{"p":"l","s":"JJA","z":2.6,"x":0},{"p":"l","s":"JJA","z":2.1,"x":0},{"p":"l","s":"JJA","z":1.7,"x":1.5},{"p":"l","s":"JJA","z":1.0,"x":0.25},{"p":"l","s":"JJA","z":0.6,"x":0.5},{"p":"l","s":"JJA","z":0.1,"x":0},
{"p":"l","s":"SON","z":19.2,"x":0},{"p":"l","s":"SON","z":6.9,"x":0},{"p":"l","s":"SON","z":5.2,"x":0.25},{"p":"l","s":"SON","z":3.5,"x":0.1},{"p":"l","s":"SON","z":2.6,"x":-0.5},{"p":"l","s":"SON","z":2.1,"x":0.5},{"p":"l","s":"SON","z":1.7,"x":2.3},{"p":"l","s":"SON","z":1.0,"x":0.25},{"p":"l","s":"SON","z":0.6,"x":0},{"p":"l","s":"SON","z":0.1,"x":0},
{"p":"l","s":"Annual","z":19.2,"x":0},{"p":"l","s":"Annual","z":6.9,"x":0},{"p":"l","s":"Annual","z":5.2,"x":0.1},{"p":"l","s":"Annual","z":3.5,"x":0.1},{"p":"l","s":"Annual","z":2.6,"x":0.1},{"p":"l","s":"Annual","z":2.1,"x":1.3},{"p":"l","s":"Annual","z":1.7,"x":2.8},{"p":"l","s":"Annual","z":1.0,"x":0.5},{"p":"l","s":"Annual","z":0.6,"x":0},{"p":"l","s":"Annual","z":0.1,"x":0}
]},
"transform": [
{"lookup": "p", "from": {"data": {"values": [
{"p":"a","r":"PHACT","c":"total"},{"p":"b","r":"PHACT","c":"ice"},{"p":"c","r":"PHACT","c":"liq"},{"p":"d","r":"PHACT","c":"mix"},
{"p":"e","r":"GOCCP","c":"total"},{"p":"f","r":"GOCCP","c":"ice"},{"p":"g","r":"GOCCP","c":"liq"},{"p":"h","r":"GOCCP","c":"mix"},
{"p":"i","r":"DARDAR","c":"total"},{"p":"j","r":"DARDAR","c":"ice"},{"p":"k","r":"DARDAR","c":"liq"},{"p":"l","r":"DARDAR","c":"mix"}
]}, "key": "p", "fields": ["r", "c"]}}
],
"facet": {
"row": {"field": "r", "type": "nominal", "sort": ["PHACT", "GOCCP", "DARDAR"], "header": {"title": "Altitude (km)", "titleFontSize": 27, "titleFont": "DejaVu Sans", "titleFontWeight": "normal", "titleColor": "#000", "labelFontSize": 27, "labelFont": "DejaVu Sans", "labelColor": "#000", "labelAngle": -90, "labelPadding": -10, "titlePadding": 7}},
"column": {"field": "c", "type": "nominal", "sort": ["total", "ice", "liq", "mix"], "header": {"title": "Δ Cloud Fraction (no sea ice - sea ice) [%]", "titleOrient": "bottom", "labelOrient": "top", "titleFontSize": 27, "titleFont": "DejaVu Sans", "titleFontWeight": "normal", "titleColor": "#000", "titlePadding": 6, "labelFontSize": 27, "labelFont": "DejaVu Sans", "labelColor": "#000", "labelPadding": 2}}
},
"spacing": {"row": 11, "column": 51},
"spec": {
"width": 259, "height": 195,
"layer": [
{"mark": {"type": "line", "strokeWidth": 3, "clip": true},
 "encoding": {
  "x": {"field": "x", "type": "quantitative", "scale": {"domain": [-10, 30], "nice": false}, "axis": {"values": [-10, 0, 10, 20, 30], "title": null, "labelPadding": 5, "labelExpr": "replace(datum.label, '\u2212', '-')", "gridOpacity": {"condition": {"test": "datum.value == -10 || datum.value == 30", "value": 0}, "value": 1}}},
  "y": {"field": "z", "type": "quantitative", "scale": {"domain": [0, 20], "nice": false}, "axis": {"values": [0, 10], "title": null, "labelPadding": 9, "gridOpacity": {"condition": {"test": "datum.value == 0", "value": 0}, "value": 1}}},
  "color": {"field": "s", "type": "nominal", "scale": {"domain": ["DJF", "MAM", "JJA", "SON", "Annual"], "range": ["#1f77b4", "#9467bd", "#d62728", "#ff7f0e", "#000000"]},
   "legend": {"title": null, "orient": "none", "legendX": 130, "legendY": 17, "symbolType": "M-2.25,0H2.25", "symbolStrokeWidth": 3, "symbolSize": 400, "symbolFillColor": "transparent", "labelFontSize": 18.5, "labelFont": "DejaVu Sans", "labelColor": "#000", "rowPadding": 6.5, "labelOffset": 24}},
  "order": {"field": "z", "type": "quantitative"}
 }},
{"transform": [{"filter": "datum.s == 'Annual' && datum.z == 19.2"}],
 "mark": {"type": "text", "fontWeight": "bold", "fontSize": 16, "font": "DejaVu Sans", "align": "center", "baseline": "middle", "color": "#000"},
 "encoding": {"x": {"datum": -7.3, "type": "quantitative"}, "y": {"datum": 18.7, "type": "quantitative"}, "text": {"field": "p"}}}
]
},
"config": {
"font": "DejaVu Sans",
"view": {"stroke": "#222", "strokeWidth": 1},
"axis": {"labelFont": "DejaVu Sans", "labelFontSize": 22, "labelColor": "#000", "tickColor": "#000", "tickSize": 5, "domain": false, "gridDash": [4, 3], "gridColor": "#d3d3d3", "gridWidth": 0.8, "labelFlush": false, "labelOverlap": false}
}
}
